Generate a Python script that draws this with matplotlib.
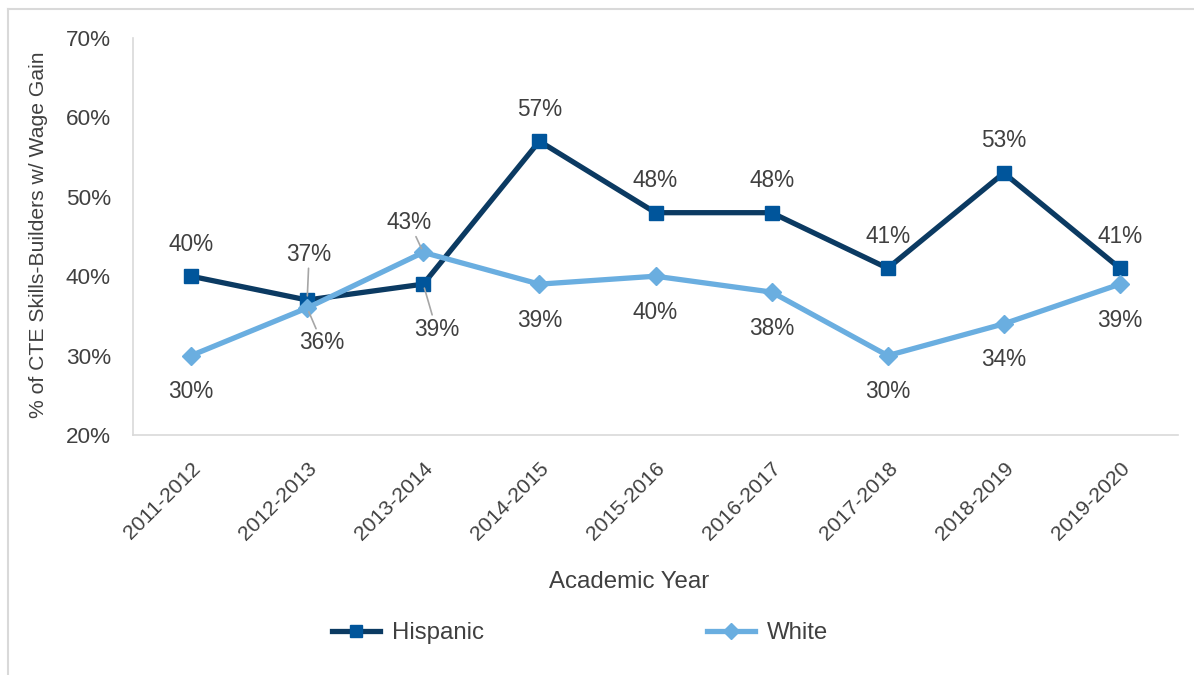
import matplotlib
matplotlib.use("Agg")
from matplotlib import pyplot as plt
from matplotlib.lines import Line2D

years = ["2011-2012", "2012-2013", "2013-2014", "2014-2015", "2015-2016",
         "2016-2017", "2017-2018", "2018-2019", "2019-2020"]
hispanic = [40, 37, 39, 57, 48, 48, 41, 53, 41]
white = [30, 36, 43, 39, 40, 38, 30, 34, 39]

# label offsets in pixels (dx, dy); others use the default above/below
his_off = {1: (2, 46), 2: (13, -45)}
wht_off = {1: (15, -35), 2: (-14, 30)}
leaders_his = {1, 2}
leaders_wht = {1, 2}

plt.rcParams["font.family"] = ["Liberation Sans", "DejaVu Sans"]
fontsize = 16.3
text_color = "#404040"
grey = "#d9d9d9"
his_line = "#0b3a62"
his_marker = "#00559b"
wht_color = "#6aaee0"

fig = plt.figure(figsize=(11.94, 6.75), dpi=100)
ax = fig.add_axes([133 / 1194, 1 - 435 / 675, 1045 / 1194, 397 / 675])

x = list(range(len(years)))
ax.plot(x, hispanic, color=his_line, lw=3.8, marker="s", markersize=9.5,
        markerfacecolor=his_marker, markeredgecolor=his_marker, label="Hispanic", zorder=3)
ax.plot(x, white, color=wht_color, lw=3.8, marker="D", markersize=9.5,
        markerfacecolor=wht_color, markeredgecolor=wht_color, label="White", zorder=4)

px = 72 / 100


def put_labels(vals, default_dy, offs, leaders):
    for i, v in enumerate(vals):
        dx, dy = offs.get(i, (0, default_dy))
        kw = {}
        if i in leaders:
            kw["arrowprops"] = dict(arrowstyle="-", color="#a6a6a6", lw=1.2,
                                    shrinkA=0, shrinkB=3)
        ax.annotate(f"{v}%", (i, v), xytext=(dx * px, dy * px),
                    textcoords="offset points", ha="center", va="center",
                    fontsize=fontsize, color=text_color, zorder=5, **kw)


put_labels(hispanic, 32, his_off, leaders_his)
put_labels(white, -36, wht_off, leaders_wht)

ax.set_xlim(-0.5, len(years) - 0.5)
ax.set_ylim(20, 70)
ax.set_yticks(range(20, 71, 10))
ax.set_yticklabels([f"{t}%" for t in range(20, 71, 10)])
ax.set_xticks(x)
ax.set_xticklabels(years, rotation=45, ha="right", rotation_mode="anchor")
ax.tick_params(axis="both", length=0, labelcolor=text_color)
ax.tick_params(axis="y", pad=16, labelsize=16.2)
ax.tick_params(axis="x", pad=17, labelsize=15.2)

for s in ["top", "right"]:
    ax.spines[s].set_visible(False)
for s in ["left", "bottom"]:
    ax.spines[s].set_color(grey)
    ax.spines[s].set_linewidth(1.2)

ax.set_xlabel("Academic Year", fontsize=17.3, color=text_color, va="center")
ax.xaxis.set_label_coords(629 / 1194, 1 - 582 / 675, transform=fig.transFigure)
ax.set_ylabel("% of CTE Skills-Builders w/ Wage Gain", fontsize=15.2,
              color=text_color, va="center")
ax.yaxis.set_label_coords(39 / 1194, 1 - 235 / 675, transform=fig.transFigure)

fig.legend(loc="center", bbox_to_anchor=(580 / 1194, 1 - 633 / 675), ncol=2,
           frameon=False, fontsize=17.3, labelcolor=text_color,
           handlelength=2.0, handletextpad=0.5, columnspacing=9.3, markerscale=0.9)

# outer chart border (left and top visible)
fig.add_artist(Line2D([8 / 1194, 8 / 1194], [0, 1 - 9 / 675], color=grey, lw=1.5,
                      transform=fig.transFigure))
fig.add_artist(Line2D([8 / 1194, 1], [1 - 9 / 675, 1 - 9 / 675], color=grey, lw=1.5,
                      transform=fig.transFigure))

fig.savefig("out.png", dpi=100)
